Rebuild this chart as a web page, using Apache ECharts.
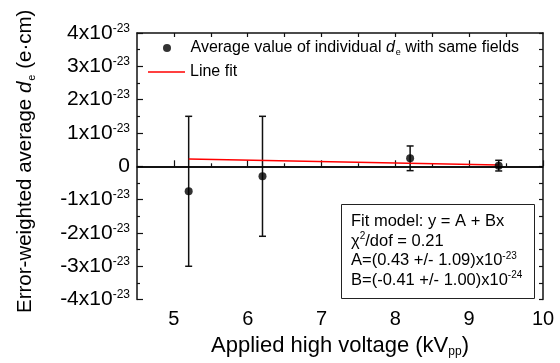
<!DOCTYPE html>
<html>
<head>
<meta charset="utf-8">
<script src="https://cdn.jsdelivr.net/npm/echarts@6/dist/echarts.min.js"></script>
<style>
  html, body { margin: 0; padding: 0; background: #fff; }
  #main { width: 560px; height: 363px; }
</style>
</head>
<body>
<div id="main"></div>
<script>
// values in units of 1e-23 e·cm
const voltages = [5.2, 6.2, 8.2, 9.4]
const means = [-0.75, -0.30, 0.24, 0.02]
const errors = [2.25, 1.80, 0.37, 0.16]
const fitX = [5.2, 9.4]
const fitY = [0.22, 0.04]
const xMajorTicks = [5, 6, 7, 8, 9, 10]
const xMinorTicks = [5.5, 6.5, 7.5, 8.5, 9.5]
const xHalfTicks = [5, 5.5, 6, 6.5, 7, 7.5, 8, 8.5, 9, 9.5]

const FONT = 'Arial, "Liberation Sans", sans-serif'
const AXIS_COLOR = '#111'

let myChart = echarts.init(document.getElementById('main'))

let pointData = voltages.map((v, i) => [v, means[i]])
let errData = voltages.map((v, i) => [v, means[i] - errors[i], means[i] + errors[i]])
let fitData = fitX.map((v, i) => [v, fitY[i]])

let legendText = {
    fontSize: 16,
    fontFamily: FONT,
    color: '#000',
    rich: {
        i: { fontSize: 16, fontStyle: 'italic', fontFamily: FONT, color: '#000' },
        sub: { fontSize: 9, fontFamily: FONT, color: '#000', verticalAlign: 'bottom', padding: [10, 0, 0, 1] }
    }
}

let option = {
    animation: false,
    backgroundColor: '#fff',
    textStyle: { fontFamily: FONT },
    grid: { left: 137, top: 33, right: 17, bottom: 56 },
    legend: [
        {
            left: 163,
            top: 40,
            padding: 0,
            itemWidth: 37,
            itemHeight: 8,
            data: [{ name: 'avg', icon: 'circle' }],
            formatter: function () {
                return 'Average value of individual {i|d}{sub|e} with same fields'
            },
            textStyle: legendText
        },
        {
            left: 148,
            top: 64,
            padding: 0,
            itemWidth: 37,
            itemHeight: 1.5,
            data: [{ name: 'fit', icon: 'rect' }],
            formatter: function () {
                return 'Line fit'
            },
            textStyle: legendText
        }
    ],
    xAxis: [
        {
            type: 'value',
            min: 4.5,
            max: 10,
            position: 'bottom',
            name: 'Applied high voltage (kV{sub|pp})',
            nameLocation: 'middle',
            nameGap: 29,
            nameTextStyle: {
                fontSize: 22,
                fontFamily: FONT,
                color: '#000',
                rich: {
                    sub: { fontSize: 12, fontFamily: FONT, color: '#000', verticalAlign: 'bottom', padding: [13, 0, 0, 0] }
                }
            },
            axisLine: { show: true, lineStyle: { color: AXIS_COLOR, width: 1.5 } },
            axisTick: { show: true, inside: true, length: 6, customValues: xMajorTicks, lineStyle: { color: AXIS_COLOR, width: 1.2 } },
            axisLabel: { show: true, margin: 10, fontSize: 20, color: '#000', customValues: xMajorTicks },
            splitLine: { show: false }
        },
        {
            type: 'value',
            min: 4.5,
            max: 10,
            position: 'bottom',
            axisLine: { show: false },
            axisTick: { show: true, inside: true, length: 3, customValues: xMinorTicks, lineStyle: { color: AXIS_COLOR, width: 1.2 } },
            axisLabel: { show: false, customValues: xMinorTicks },
            splitLine: { show: false }
        },
        {
            type: 'value',
            min: 4.5,
            max: 10,
            position: 'top',
            axisLine: { show: true, lineStyle: { color: AXIS_COLOR, width: 1.5 } },
            axisTick: { show: true, inside: true, length: 4, customValues: xHalfTicks, lineStyle: { color: AXIS_COLOR, width: 1.2 } },
            axisLabel: { show: false, customValues: xHalfTicks },
            splitLine: { show: false }
        }
    ],
    yAxis: [
        {
            type: 'value',
            min: -4,
            max: 4,
            interval: 1,
            position: 'left',
            name: 'Error-weighted average {i|d}{sub|e} (e·cm)',
            nameLocation: 'middle',
            nameGap: 100,
            nameRotate: 90,
            nameTextStyle: {
                fontSize: 20.5,
                fontFamily: FONT,
                color: '#000',
                padding: [0, 0, 0, 10],
                rich: {
                    i: { fontSize: 20.5, fontStyle: 'italic', fontFamily: FONT, color: '#000' },
                    sub: { fontSize: 11, fontFamily: FONT, color: '#000', verticalAlign: 'bottom', padding: [12, 0, 0, 1] }
                }
            },
            axisLine: { show: true, lineStyle: { color: AXIS_COLOR, width: 1.5 } },
            axisTick: { show: true, inside: true, length: 6, lineStyle: { color: AXIS_COLOR, width: 1.2 } },
            minorTick: { show: true, splitNumber: 2, length: 3, lineStyle: { color: AXIS_COLOR, width: 1.2 } },
            axisLabel: {
                margin: 7,
                color: '#000',
                formatter: function (v) {
                    if (v === 0) return '{n|0}'
                    return '{n|' + v + 'x10}{sup|-23}'
                },
                rich: {
                    sup: { fontSize: 12, fontFamily: FONT, color: '#000', verticalAlign: 'top', padding: [0, 0, 9, 0] },
                    n: { fontSize: 21, fontFamily: FONT, color: '#000', verticalAlign: 'bottom' }
                }
            },
            splitLine: { show: false }
        },
        {
            type: 'value',
            min: -4,
            max: 4,
            interval: 1,
            position: 'right',
            axisLine: { show: true, lineStyle: { color: AXIS_COLOR, width: 1.5 } },
            axisTick: { show: true, inside: true, length: 4, lineStyle: { color: AXIS_COLOR, width: 1.2 } },
            minorTick: { show: true, splitNumber: 2, length: 4, lineStyle: { color: AXIS_COLOR, width: 1.2 } },
            axisLabel: { show: false },
            splitLine: { show: false }
        }
    ],
    graphic: [
        {
            type: 'rect',
            left: 341,
            top: 204,
            shape: { width: 193, height: 94 },
            style: { fill: '#fff', stroke: '#222', lineWidth: 1 },
            z: 10
        },
        {
            type: 'text',
            left: 351,
            top: 212,
            z: 11,
            style: {
                text: 'Fit model: y = A + Bx\n{t|χ}{s|2}{t|/dof = 0.21}\nA=(0.43 +/- 1.09)x10{s|-23}\nB=(-0.41 +/- 1.00)x10{s|-24}',
                fontSize: 16.5,
                fontFamily: FONT,
                fill: '#000',
                lineHeight: 19.5,
                rich: {
                    t: { fontSize: 16.5, fontFamily: FONT, fill: '#000', lineHeight: 19.5 },
                    s: { fontSize: 10, fontFamily: FONT, fill: '#000', verticalAlign: 'top', lineHeight: 13 }
                }
            }
        }
    ],
    series: [
        {
            name: 'fit',
            type: 'line',
            data: fitData,
            symbol: 'none',
            showSymbol: false,
            lineStyle: { color: '#ff0000', width: 1.5 },
            itemStyle: { color: '#ff0000' },
            z: 4
        },
        {
            name: 'err',
            type: 'custom',
            data: errData,
            encode: { x: 0, y: [1, 2] },
            renderItem: function (params, api) {
                let x = api.value(0)
                let lo = api.coord([x, api.value(1)])
                let hi = api.coord([x, api.value(2)])
                let cap = 3.5
                let style = { stroke: '#111', lineWidth: 1.5 }
                return {
                    type: 'group',
                    children: [
                        { type: 'line', shape: { x1: hi[0], y1: hi[1], x2: lo[0], y2: lo[1] }, style: style },
                        { type: 'line', shape: { x1: hi[0] - cap, y1: hi[1], x2: hi[0] + cap, y2: hi[1] }, style: style },
                        { type: 'line', shape: { x1: lo[0] - cap, y1: lo[1], x2: lo[0] + cap, y2: lo[1] }, style: style }
                    ]
                }
            },
            z: 3
        },
        {
            name: 'avg',
            type: 'scatter',
            data: pointData,
            symbol: 'circle',
            symbolSize: 8,
            itemStyle: { color: '#000' },
            z: 5,
            markLine: {
                silent: true,
                symbol: 'none',
                label: { show: false },
                lineStyle: { color: '#000', width: 1.5, type: 'solid' },
                data: [{ yAxis: 0 }]
            }
        }
    ]
}
myChart.setOption(option)
</script>
</body>
</html>
